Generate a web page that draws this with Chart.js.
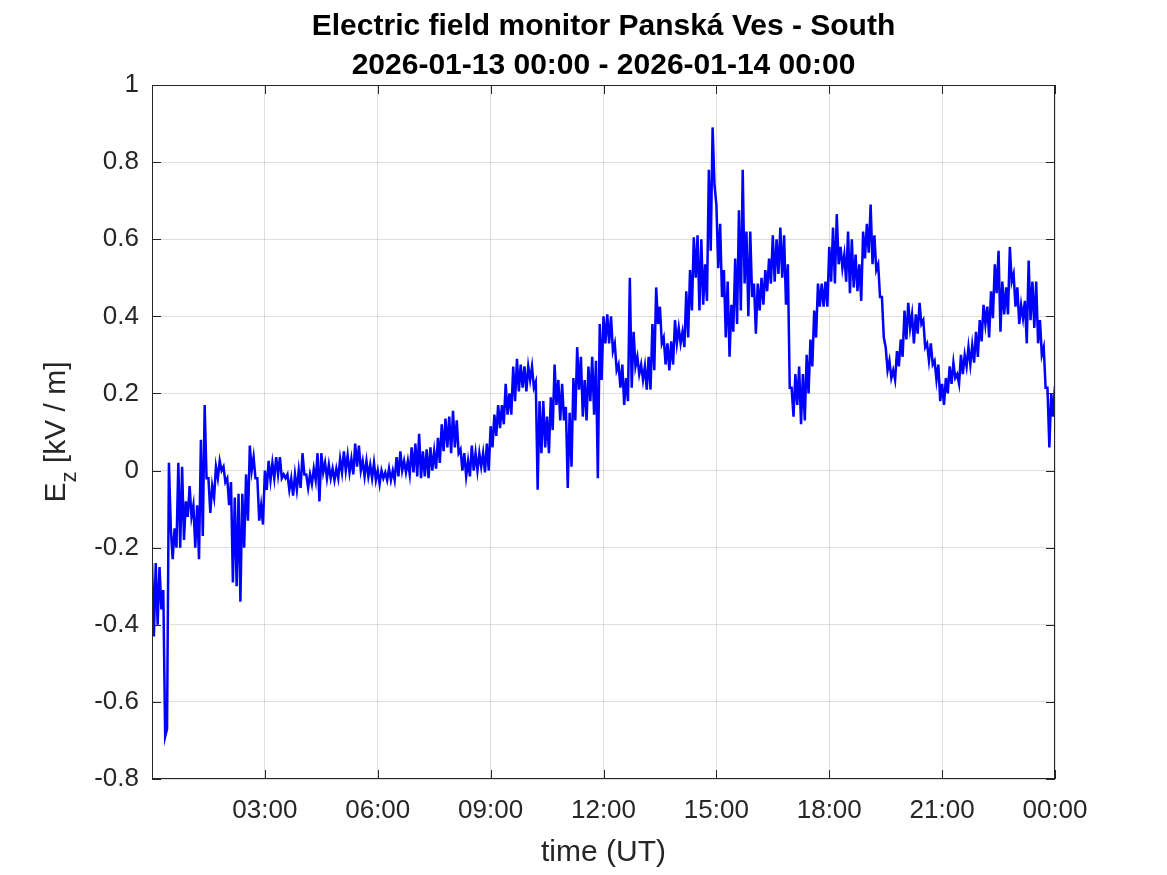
<!DOCTYPE html>
<html>
<head>
<meta charset="utf-8">
<script src="https://cdn.jsdelivr.net/npm/chart.js@4.4.1/dist/chart.umd.min.js"></script>
<style>
  html, body { margin: 0; padding: 0; background: #fff; }
  canvas { display: block; }
</style>
</head>
<body>
<canvas id="cht" width="1167" height="875"></canvas>
<script>
'use strict';
// chart texts
const titleLines = ['Electric field monitor Panská Ves - South', '2026-01-13 00:00 - 2026-01-14 00:00'];
const xTitle = 'time (UT)';

// axis ranges (hours since 2026-01-13 00:00, kV/m)
const xMin = 0, xMax = 24, xStep = 3;
const yMin = -0.8, yMax = 1, yStep = 0.2;

// two readings per 6-minute bin:
// fieldA at the start of the bin, fieldB three minutes later
const binHours = 0.1;
const fieldA = [
    -0.24, -0.24, -0.25, -0.31, -0.67, -0.15, -0.15, 0.02, 0.01, -0.08,
    -0.04, -0.09, -0.09, 0.08, 0.17, -0.02, -0.04, 0.01, 0.025, 0.01,
    -0.02, -0.03, -0.07, -0.06, -0.06, -0.01, 0.065, 0.035, -0.02, -0.09,
    0.0, 0.025, 0.02, 0.035, 0.035, -0.01, -0.01, -0.02, -0.01, 0.0,
    0.045, -0.01, -0.01, 0.005, 0.045, 0.045, 0.02, 0.015, 0.005, 0.005,
    0.03, 0.05, 0.04, 0.03, 0.07, 0.065, 0.025, 0.025, 0.015, 0.02,
    0.0, 0.0, -0.005, 0.005, 0.0, 0.035, 0.05, 0.025, 0.025, 0.06,
    0.07, 0.095, 0.05, 0.055, 0.06, 0.05, 0.085, 0.12, 0.135, 0.14,
    0.155, 0.13, 0.055, 0.045, 0.025, 0.065, 0.045, 0.045, 0.045, 0.07,
    0.115, 0.145, 0.17, 0.17, 0.225, 0.2, 0.27, 0.29, 0.275, 0.27,
    0.27, 0.27, 0.23, 0.18, 0.18, 0.14, 0.19, 0.275, 0.235, 0.225,
    0.165, 0.15, 0.24, 0.32, 0.295, 0.235, 0.27, 0.295, 0.285, 0.38,
    0.4, 0.405, 0.4, 0.33, 0.275, 0.275, 0.24, 0.5, 0.36, 0.295,
    0.275, 0.27, 0.295, 0.38, 0.475, 0.425, 0.345, 0.33, 0.335, 0.39,
    0.37, 0.36, 0.465, 0.52, 0.605, 0.61, 0.6, 0.535, 0.78, 0.89,
    0.69, 0.64, 0.52, 0.49, 0.43, 0.55, 0.675, 0.78, 0.62, 0.62,
    0.485, 0.485, 0.5, 0.52, 0.55, 0.61, 0.6, 0.63, 0.61, 0.535,
    0.215, 0.25, 0.27, 0.25, 0.3, 0.34, 0.415, 0.485, 0.485, 0.49,
    0.58, 0.63, 0.665, 0.58, 0.56, 0.62, 0.6, 0.56, 0.535, 0.62,
    0.64, 0.69, 0.61, 0.535, 0.45, 0.32, 0.285, 0.26, 0.31, 0.34,
    0.415, 0.435, 0.405, 0.405, 0.435, 0.39, 0.33, 0.33, 0.285, 0.275,
    0.225, 0.24, 0.27, 0.28, 0.25, 0.3, 0.3, 0.32, 0.325, 0.36,
    0.39, 0.43, 0.425, 0.465, 0.535, 0.57, 0.49, 0.475, 0.58, 0.51,
    0.475, 0.43, 0.44, 0.545, 0.49, 0.49, 0.39, 0.32, 0.215, 0.2,
    0.22
];
const fieldB = [
    -0.43, -0.4, -0.36, -0.69, 0.02, -0.23, -0.2, -0.2, -0.18, -0.12,
    -0.12, -0.2, -0.23, -0.17, -0.02, -0.11, -0.07, -0.02, 0.0, -0.03,
    -0.09, -0.29, -0.3, -0.34, -0.2, -0.13, 0.0, -0.02, -0.13, -0.14,
    -0.05, -0.025, -0.02, -0.01, -0.02, -0.02, -0.05, -0.065, -0.05, -0.045,
    -0.01, -0.045, -0.035, -0.025, -0.08, -0.005, -0.02, -0.02, -0.025, -0.02,
    -0.005, 0.0, -0.005, -0.01, 0.01, 0.0, -0.015, -0.015, -0.02, -0.025,
    -0.035, -0.02, -0.025, -0.025, -0.025, -0.015, 0.0, -0.005, -0.01, -0.005,
    -0.015, -0.02, -0.015, -0.02, 0.0, 0.005, 0.02, 0.05, 0.06, 0.045,
    0.06, 0.045, 0.0, -0.015, -0.015, 0.0, 0.0, 0.01, -0.005, 0.0,
    0.06, 0.09, 0.11, 0.12, 0.145, 0.145, 0.18, 0.205, 0.215, 0.205,
    0.235, 0.215, -0.05, 0.045, 0.06, 0.045, 0.105, 0.17, 0.13, 0.13,
    -0.045, 0.01, 0.13, 0.21, 0.14, 0.13, 0.18, 0.145, -0.02, 0.235,
    0.33, 0.33, 0.31, 0.26, 0.215, 0.17, 0.18, 0.215, 0.27, 0.25,
    0.235, 0.21, 0.21, 0.26, 0.38, 0.33, 0.275, 0.26, 0.275, 0.33,
    0.33, 0.32, 0.345, 0.415, 0.5, 0.415, 0.43, 0.44, 0.57, 0.74,
    0.525, 0.45, 0.345, 0.295, 0.36, 0.38, 0.415, 0.485, 0.4, 0.45,
    0.355, 0.415, 0.43, 0.465, 0.485, 0.49, 0.51, 0.5, 0.43, 0.215,
    0.14, 0.17, 0.12, 0.13, 0.2, 0.27, 0.345, 0.425, 0.425, 0.425,
    0.49, 0.485, 0.535, 0.525, 0.49, 0.46, 0.475, 0.465, 0.44, 0.55,
    0.565, 0.535, 0.52, 0.45, 0.345, 0.26, 0.24, 0.235, 0.27, 0.295,
    0.34, 0.37, 0.33, 0.355, 0.38, 0.32, 0.285, 0.275, 0.235, 0.18,
    0.17, 0.2, 0.225, 0.24, 0.225, 0.25, 0.27, 0.275, 0.28, 0.295,
    0.335, 0.38, 0.345, 0.395, 0.46, 0.36, 0.405, 0.405, 0.49, 0.425,
    0.38, 0.395, 0.33, 0.39, 0.37, 0.33, 0.3, 0.215, 0.06, 0.14
];

const FONT = '"Liberation Sans", Arial, Helvetica, sans-serif';
const INK = '#262626';

var points = [];
for (var i = 0; i < fieldA.length; i++) {
    points.push({ x: i * binHours, y: fieldA[i] });
    if (i < fieldB.length) {
        points.push({ x: i * binHours + binHours / 2, y: fieldB[i] });
    }
}

function pad2(n) {
    return n.toString().padStart(2, '0');
}

// title, axis titles, box and inward ticks like the original figure
var decorPlugin = {
    id: 'decor',
    afterDraw(chart) {
        var ctx = chart.ctx;
        var area = chart.chartArea;
        var cx = (area.left + area.right) / 2;

        ctx.save();
        ctx.fillStyle = '#000';
        ctx.textAlign = 'center';
        ctx.textBaseline = 'alphabetic';
        ctx.font = 'bold 30px ' + FONT;
        ctx.fillText(titleLines[0], cx, 35);
        ctx.fillText(titleLines[1], cx, 74);

        ctx.fillStyle = INK;
        ctx.font = '30px ' + FONT;
        ctx.fillText(xTitle, cx, 861);

        // y title with subscript
        ctx.translate(65, (area.top + area.bottom) / 2);
        ctx.rotate(-Math.PI / 2);
        ctx.textAlign = 'left';
        var mainFont = '30px ' + FONT, subFont = '22px ' + FONT;
        ctx.font = mainFont;
        var wE = ctx.measureText('E').width;
        var wRest = ctx.measureText(' [kV / m]').width;
        ctx.font = subFont;
        var wZ = ctx.measureText('z').width;
        var x0 = -(wE + wZ + wRest) / 2;
        ctx.font = mainFont;
        ctx.fillText('E', x0, 0);
        ctx.font = subFont;
        ctx.fillText('z', x0 + wE, 11);
        ctx.font = mainFont;
        ctx.fillText(' [kV / m]', x0 + wE + wZ, 0);
        ctx.restore();

        // box
        ctx.save();
        ctx.strokeStyle = INK;
        ctx.lineWidth = 1;
        ctx.strokeRect(area.left + 0.5, area.top + 0.5, area.right - area.left - 1, area.bottom - area.top - 1);

        var tl = 9;
        ctx.beginPath();
        chart.scales.y.ticks.forEach((t) => {
            var py = Math.round(chart.scales.y.getPixelForValue(t.value)) + 0.5;
            ctx.moveTo(area.left, py); ctx.lineTo(area.left + tl, py);
            ctx.moveTo(area.right, py); ctx.lineTo(area.right - tl, py);
        });
        chart.scales.x.ticks.forEach((t) => {
            var px = Math.round(chart.scales.x.getPixelForValue(t.value)) + 0.5;
            ctx.moveTo(px, area.bottom); ctx.lineTo(px, area.bottom - tl);
            ctx.moveTo(px, area.top); ctx.lineTo(px, area.top + tl);
        });
        ctx.stroke();
        ctx.restore();
    }
};

new Chart(document.getElementById('cht'), {
    type: 'line',
    data: {
        datasets: [{
            data: points,
            borderColor: '#0000ff',
            borderWidth: 2.5,
            pointRadius: 0,
            tension: 0,
            fill: false
        }]
    },
    options: {
        responsive: false,
        animation: false,
        parsing: false,
        layout: {
            padding: { top: 85, right: 112, left: 0, bottom: 0 }
        },
        plugins: {
            legend: { display: false },
            tooltip: { enabled: false },
            title: { display: false }
        },
        scales: {
            x: {
                type: 'linear',
                min: xMin,
                max: xMax,
                border: { display: false },
                grid: { color: 'rgba(0,0,0,0.13)', drawTicks: false },
                ticks: {
                    stepSize: xStep,
                    padding: 16,
                    color: INK,
                    font: { family: FONT, size: 26 },
                    maxRotation: 0,
                    autoSkip: false,
                    callback: (v) => {
                        if (v === 0) return '';
                        return pad2(v % 24) + ':00';
                    }
                },
                afterFit(scale) { scale.height = 96; }
            },
            y: {
                type: 'linear',
                min: yMin,
                max: yMax,
                border: { display: false },
                grid: { color: 'rgba(0,0,0,0.13)', drawTicks: false },
                ticks: {
                    stepSize: yStep,
                    padding: 13,
                    color: INK,
                    font: { family: FONT, size: 26 },
                    autoSkip: false,
                    callback: (v) => {
                        return (Math.round(v * 10) / 10).toString();
                    }
                },
                afterFit(scale) { scale.width = 152; }
            }
        }
    },
    plugins: [decorPlugin]
});
</script>
</body>
</html>
